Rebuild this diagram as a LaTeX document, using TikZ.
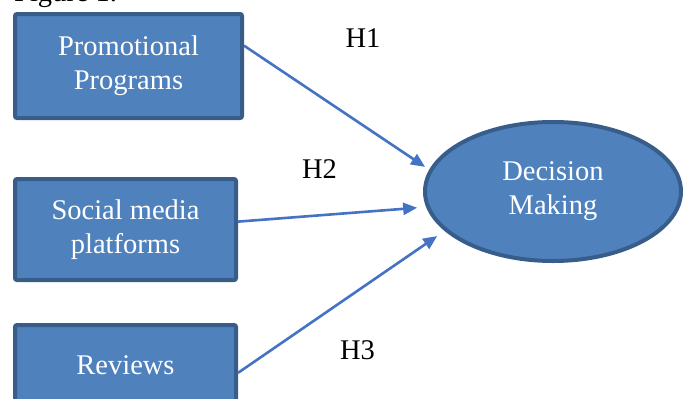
\documentclass[tikz,border=0pt]{standalone}
\usepackage{fontspec}
\setmainfont{Liberation Serif}
\usepackage{tikz}
\usetikzlibrary{arrows.meta}
\usetikzlibrary{shapes.geometric}
\usepackage{xcolor}
\definecolor{boxfill}{HTML}{4F81BD}
\definecolor{boxline}{HTML}{385D8A}
\definecolor{arrowblue}{HTML}{4472C4}
\tikzset{
    factor/.style={
        draw=boxline,
        fill=boxfill,
        line width=4pt,
        rounded corners=2pt,
        text=white,
        align=center,
        inner sep=0pt,
        font=\fontsize{28.5}{34}\selectfont
    },
    outcome/.style={
        ellipse,
        draw=boxline,
        fill=boxfill,
        line width=4pt,
        text=white,
        align=center,
        inner sep=0pt,
        minimum width=256pt,
        minimum height=139pt,
        font=\fontsize{28.5}{34}\selectfont
    },
    hyp/.style={
        anchor=base,
        inner sep=0pt,
        font=\fontsize{28.5}{34}\selectfont
    },
    link/.style={
        draw=arrowblue,
        line width=2.6pt,
        -{Triangle[length=14pt, width=12pt]}
    }
}

\begin{document}
\begin{tikzpicture}[x=1pt, y=-1pt]
    \clip (0,0) rectangle (691,399);
    \useasboundingbox (0,0) rectangle (691,399);

    % Caption (cut off at the top)
    \node[hyp, anchor=base west] (fig) at (14,1.5) {Figure 1.};

    % Boxes
    \node[factor, minimum width=227pt, minimum height=104pt] (prom) at (128.5,66) {Promotional\\Programs};
    \node[factor, minimum width=221pt, minimum height=101pt] (soc) at (125.5,229.5) {Social media\\platforms};
    \node[factor, minimum width=221pt, minimum height=80pt] (rev) at (125.5,365) {Reviews};
    \node[outcome] (dec) at (553,191.5) {Decision\\Making};

    % Arrows
    \draw[link, shorten >=5pt] (prom.10) -- (dec.170);
    \draw[link, shorten >=9pt] (soc.4) -- (dec.187);
    \draw[link, shorten >=9pt] (rev.-4) -- (dec.200);

    % Labels
    \node[hyp] (h1) at (363,47) {H1};
    \node[hyp] (h2) at (319.5,178) {H2};
    \node[hyp] (h3) at (357.5,359) {H3};
\end{tikzpicture}
\end{document}
